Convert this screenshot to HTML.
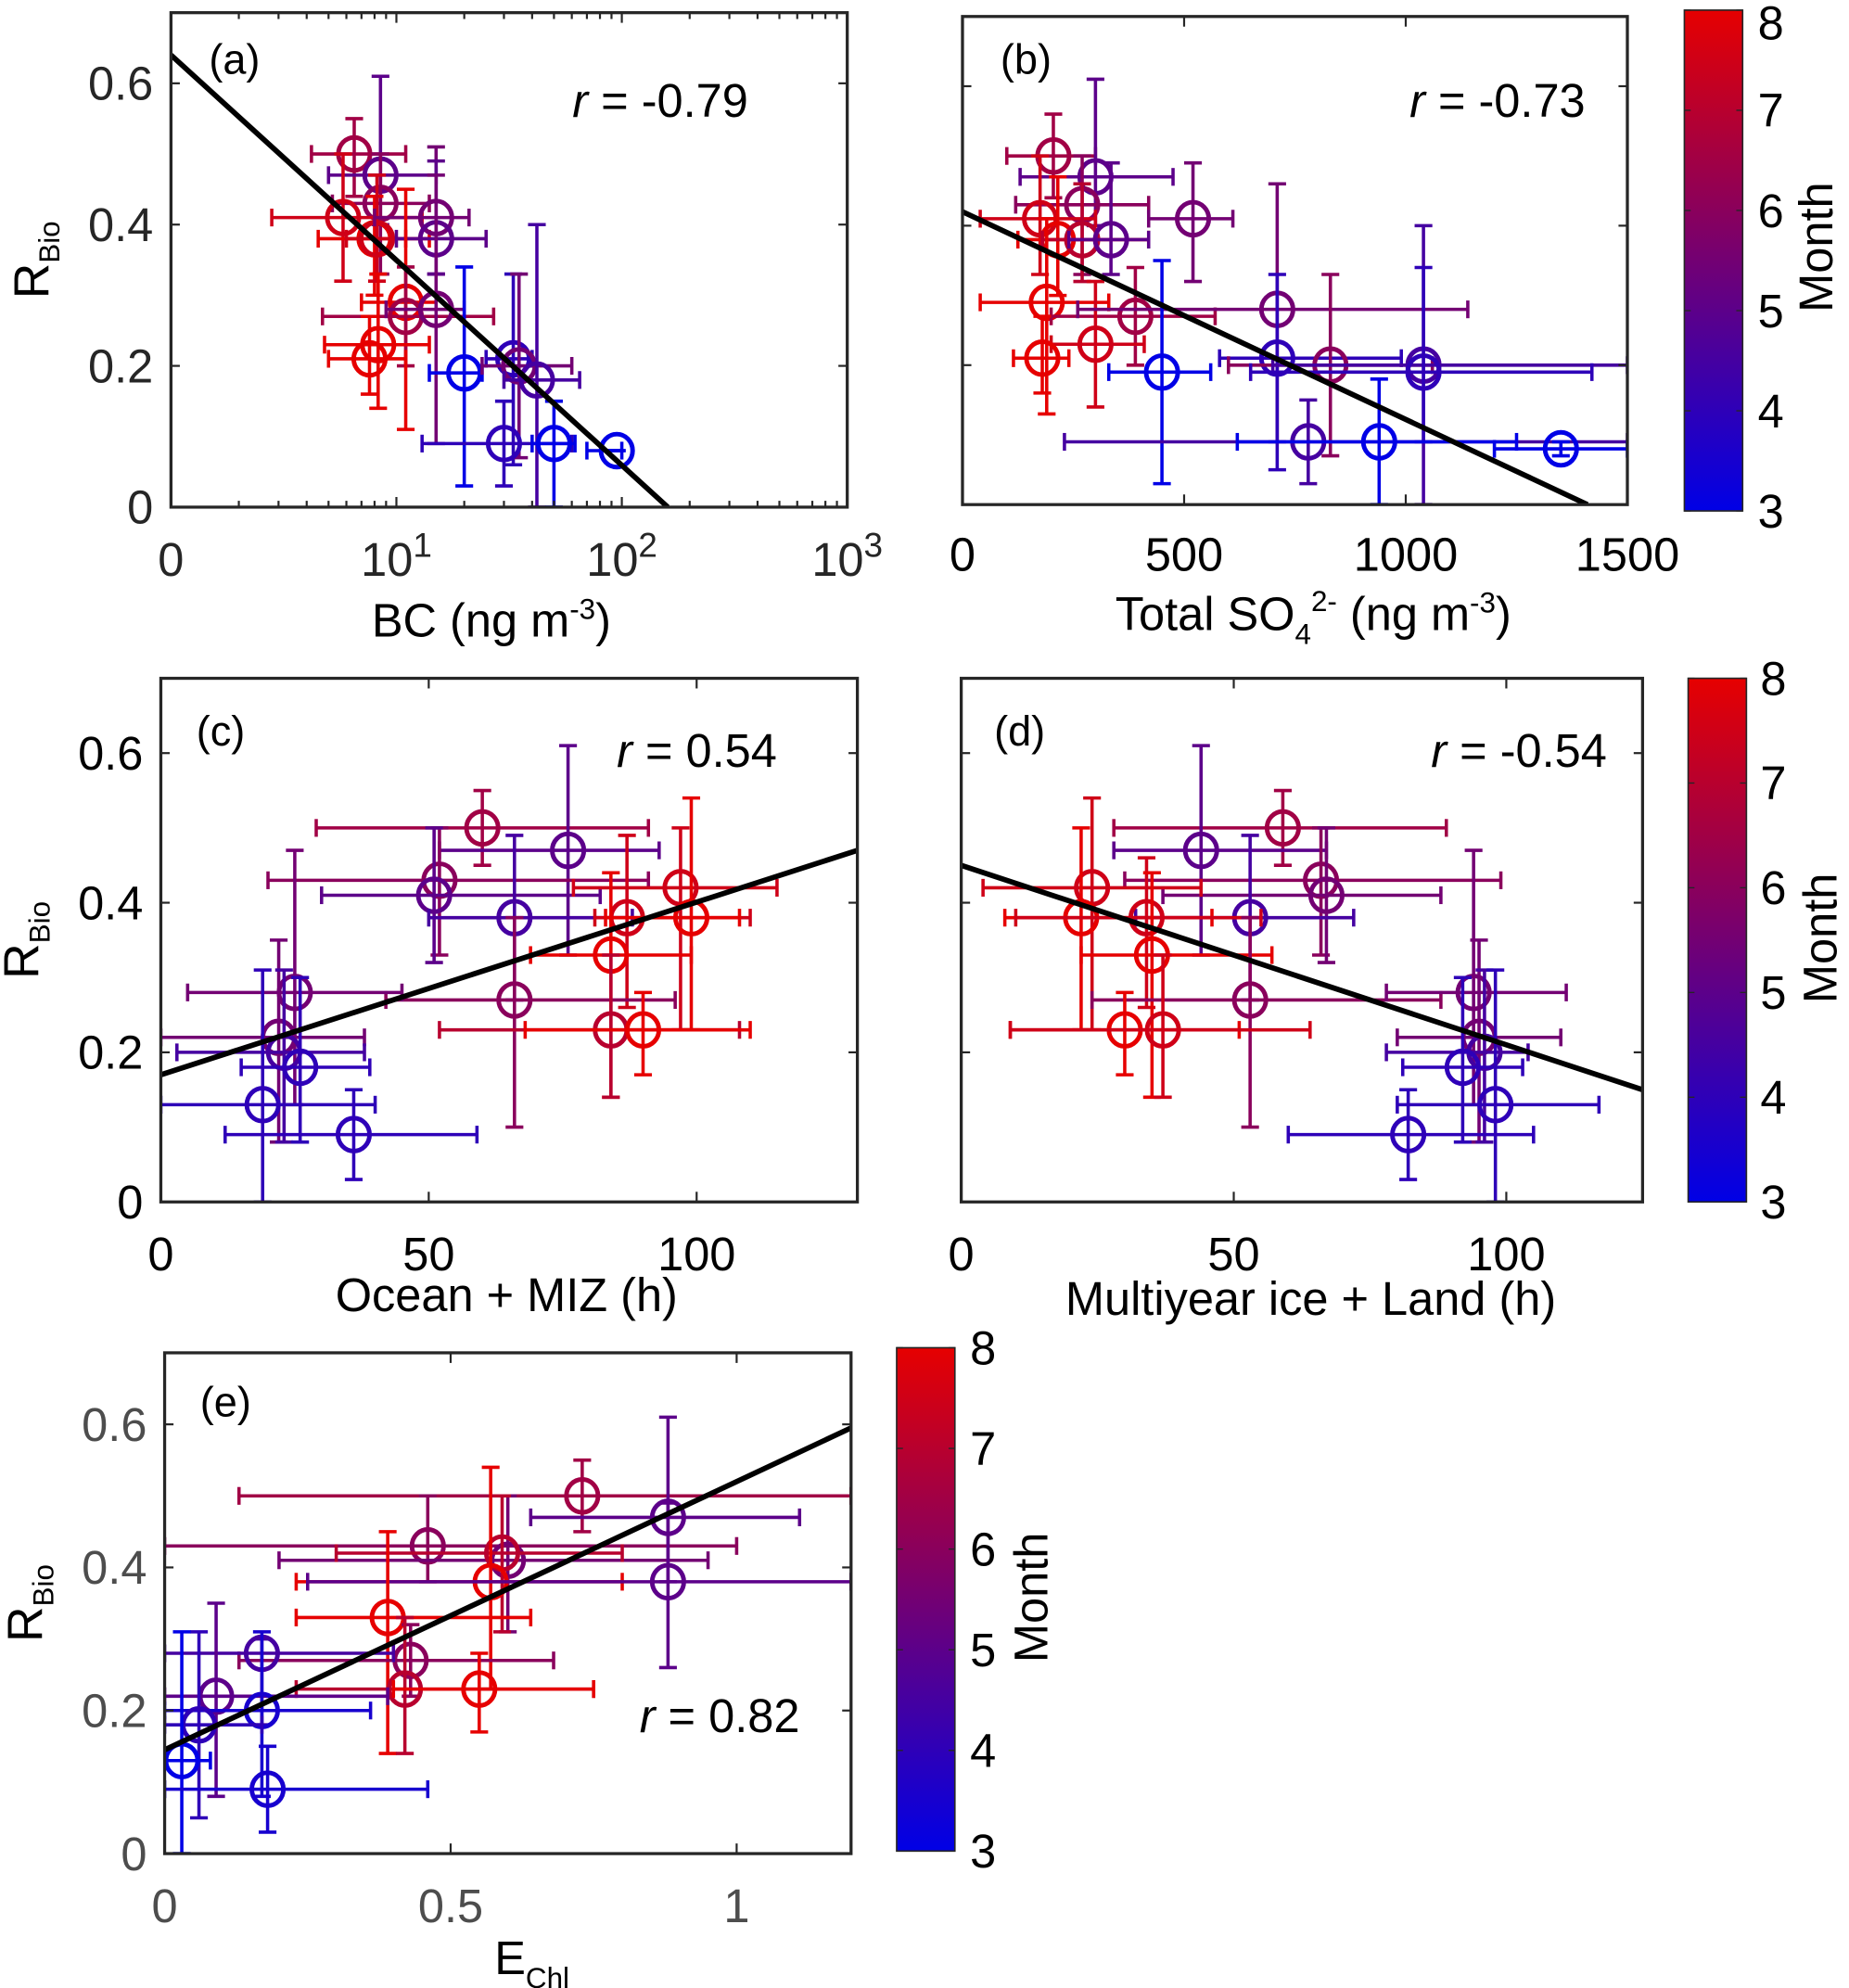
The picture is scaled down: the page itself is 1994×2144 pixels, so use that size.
<!DOCTYPE html>
<html><head><meta charset="utf-8"><style>
html,body{margin:0;padding:0;background:#fff}
svg{display:block}
text{font-family:"Liberation Sans",Arial,sans-serif}
</style></head><body>
<svg id="fig" xmlns="http://www.w3.org/2000/svg" width="1994" height="2144" viewBox="0 0 1460 1568" preserveAspectRatio="none">
<defs>
<linearGradient id="cb" x1="0" y1="1" x2="0" y2="0">
<stop offset="0" stop-color="rgb(0,0,230)"/><stop offset="0.5" stop-color="rgb(115,0,115)"/><stop offset="1" stop-color="rgb(230,0,0)"/>
</linearGradient>
</defs>
</svg>
<script>
// ---- panel (a): BC
const aX=[6.5,8.5,8.5,5.8,8.0,8.2,15,15,11,11,15,8.3,7.6,20,33,35,42,30,50,95];
const aY=[0.50,0.47,0.43,0.41,0.38,0.38,0.41,0.38,0.29,0.27,0.28,0.23,0.21,0.19,0.21,0.20,0.18,0.09,0.09,0.08];
const aM=[6.5,5,6,7.5,8,7.5,5.5,5,8,6.5,5.5,8,8,3,4,5.5,4.5,4,3,3];
const aXlo=[4.2,5,5.2,2.8,4.5,6,8,10,7,4.7,9,4.8,5,14,25,24,30,13,40,70];
const aXhi=[11,15,14,13,14,11,21,25,15,27,20,14,11,24,40,60,65,60,62,100];
const aYlo=[0.44,0.40,0.33,0.32,0.30,0.32,0.33,0.33,0.11,0.20,0.09,0.14,0.16,0.03,0.06,0.07,0,0.03,0,0.08];
const aYhi=[0.55,0.61,0.50,0.50,0.44,0.47,0.51,0.49,0.45,0.34,0.47,0.33,0.27,0.34,0.33,0.33,0.40,0.15,0.15,0.08];
// ---- panel (b): SO4
const bX=[205,300,270,175,215,270,335,520,190,390,300,180,710,450,710,830,1040,1040,780,940,1350];
const bY=[0.50,0.47,0.43,0.41,0.38,0.38,0.38,0.41,0.29,0.27,0.23,0.21,0.28,0.19,0.21,0.20,0.20,0.19,0.09,0.09,0.08];
const bM=[6.5,5,6,7.5,8,7,5,5.5,8,6.5,7.5,8,5.5,3,4,6,4.5,4,4.5,3,3];
const bXlo=[100,130,120,40,125,180,240,420,40,200,200,115,260,330,580,600,700,650,230,620,1200];
const bXhi=[300,475,420,300,420,300,420,610,330,570,410,240,1140,560,990,1060,1500,1420,1500,1250,1500];
const bYlo=[0.44,0.40,0.33,0.33,0.30,0.32,0.33,0.32,0.13,0.20,0.14,0.16,0.09,0.03,0.05,0.07,0,0.09,0.03,0,0.07];
const bYhi=[0.56,0.61,0.50,0.50,0.47,0.46,0.49,0.49,0.41,0.34,0.32,0.27,0.46,0.35,0.33,0.33,0.40,0.34,0.15,0.18,0.09];
// ---- panel (c): Ocean + MIZ
const cX=[60,76,52,51,66,97,87,99,84,66,84,90,25,22,23,26,19,36];
const cY=[0.50,0.47,0.43,0.41,0.38,0.42,0.38,0.38,0.33,0.27,0.23,0.23,0.28,0.22,0.20,0.18,0.13,0.09];
const cM=[6.5,5,6,5,4.5,7.5,7.5,8,8,6,7,8,5.5,5.5,4.5,4,4,4];
const cXlo=[29,52,20,30,50,77,81,83,69,42,52,68,5,0,3,15,0,12];
const cXhi=[91,93,91,82,88,115,110,108,99,96,108,110,45,38,38,39,40,59];
const cYlo=[0.45,0.33,0.33,0.32,0.27,0.23,0.26,0.23,0.14,0.10,0.14,0.17,0.13,0.08,0.08,0.08,0,0.03];
const cYhi=[0.55,0.61,0.50,0.50,0.49,0.50,0.49,0.54,0.44,0.38,0.33,0.28,0.47,0.35,0.31,0.30,0.31,0.15];
// ---- panel (d): Multiyear ice + Land
const dX=[59,44,66,67,53,24,22,34,35,53,30,37,94,95,96,92,98,82];
const dY=[0.50,0.47,0.43,0.41,0.38,0.42,0.38,0.38,0.33,0.27,0.23,0.23,0.28,0.22,0.20,0.18,0.13,0.09];
const dM=[6.5,5,6,5.5,4.5,7.5,8,7.5,8,6,8,7.5,5.5,5.5,4.5,4,4,4];
const dXlo=[28,28,30,37,32,4,8,10,22,24,9,9,78,80,78,81,80,60];
const dXhi=[89,67,99,88,72,44,46,55,57,88,51,64,111,110,104,103,117,105];
const dYlo=[0.45,0.33,0.33,0.32,0.27,0.23,0.23,0.26,0.14,0.10,0.17,0.14,0.13,0.08,0.08,0.08,0,0.03];
const dYhi=[0.55,0.61,0.50,0.50,0.49,0.54,0.50,0.46,0.44,0.38,0.28,0.33,0.47,0.35,0.31,0.30,0.31,0.15];
// ---- panel (e): E_Chl
const eX=[0.73,0.88,0.46,0.60,0.59,0.57,0.88,0.39,0.43,0.42,0.55,0.17,0.09,0.17,0.06,0.03,0.18];
const eY=[0.50,0.47,0.43,0.41,0.42,0.38,0.38,0.33,0.27,0.23,0.23,0.28,0.22,0.20,0.18,0.13,0.09];
const eM=[6.5,5,6,5.5,7,8,5,8,6,7,8,4.5,5,3.5,4,3,3.5];
const eXlo=[0.13,0.64,0,0.2,0.3,0.23,0.25,0.23,0.13,0.23,0.4,0,0,0,0,0,0];
const eXhi=[1.2,1.11,1.0,0.95,0.8,0.8,1.2,0.64,0.68,0.75,0.75,0.4,0.39,0.36,0.17,0.08,0.46];
const eYlo=[0.45,0.38,0.38,0.31,0.31,0.23,0.26,0.14,0.22,0.14,0.17,0.18,0.08,0.08,0.05,0,0.03];
const eYhi=[0.55,0.61,0.50,0.50,0.50,0.54,0.49,0.45,0.32,0.33,0.28,0.30,0.35,0.31,0.31,0.31,0.15];
// ---- fit lines [x0,y0,x1,y1]
const aFit=[1,0.64,160,0];
const bFit=[0,0.42,1410,0];
const cFit=[0,0.17,130,0.47];
const dFit=[0,0.45,125,0.15];
const eFit=[0,0.145,1.2,0.595];
const rTicks=[0,0.2,0.4,0.6];
const monthTicks=[3,4,5,6,7,8];

const NS='http://www.w3.org/2000/svg';
const svg=document.getElementById('fig');
const FS=37;
function mk(tag,parent,attrs){const e=document.createElementNS(NS,tag);for(const k in attrs)e.setAttribute(k,attrs[k]);parent.appendChild(e);return e;}
function col(m){const t=Math.max(0,Math.min(1,(m-3)/5));return 'rgb('+Math.round(230*t)+',0,'+Math.round(230*(1-t))+')';}

function panel(o){
  const g=mk('g',svg,{});
  
  
  const L=o.box[0],T=o.box[1],R=o.box[2],B=o.box[3];
  const sx=o.log? (v=>L+(Math.log10(v)-0)/3*(R-L)) : (v=>L+(v-o.xmin)/(o.xmax-o.xmin)*(R-L));
  const sy=v=>B-(v/0.7)*(B-T);
  const clip='clip'+o.id;
  const cp=mk('clipPath',svg,{id:clip});mk('rect',cp,{x:L,y:T,width:R-L,height:B-T});
  mk('rect',g,{x:L,y:T,width:R-L,height:B-T,fill:'#fff'});
  const marks=mk('g',g,{'clip-path':'url(#'+clip+')'});
  
  
  for(let i=0;i<o.x.length;i++){
    const c=col(o.m[i]);const px=sx(o.x[i]),py=sy(o.y[i]);
    const x1=sx(Math.max(o.log?1:o.xmin,o.xlo[i])),x2=sx(o.xhi[i]),y1=sy(o.ylo[i]),y2=sy(o.yhi[i]);
    const pt=mk('g',marks,{stroke:c,fill:'none'});
    
    
    const w=2.6;
    mk('line',pt,{x1:x1,y1:py,x2:x2,y2:py,'stroke-width':w});
    mk('line',pt,{x1:x1,y1:py-7,x2:x1,y2:py+7,'stroke-width':w});
    mk('line',pt,{x1:x2,y1:py-7,x2:x2,y2:py+7,'stroke-width':w});
    mk('line',pt,{x1:px,y1:y1,x2:px,y2:y2,'stroke-width':w});
    mk('line',pt,{x1:px-7,y1:y1,x2:px+7,y2:y1,'stroke-width':w});
    mk('line',pt,{x1:px-7,y1:y2,x2:px+7,y2:y2,'stroke-width':w});
    mk('ellipse',pt,{cx:px,cy:py,rx:12.5,ry:13,'stroke-width':3.6});
  }
  const f=o.fit;
  const fl=mk('line',marks,{x1:sx(f[0]),y1:sy(f[1]),x2:sx(f[2]),y2:sy(f[3]),stroke:'#000','stroke-width':4.2});
  
  
  const tk=mk('g',g,{stroke:'#262626','stroke-width':1.6});
  rTicks.forEach(v=>{const y=sy(v);mk('line',tk,{x1:L,y1:y,x2:L+7,y2:y});mk('line',tk,{x1:R,y1:y,x2:R-7,y2:y});
    if(o.yl){const t=mk('text',g,{x:L-14,y:y+13,'text-anchor':'end','font-size':FS,fill:o.tc});t.textContent=String(v);}});
  o.xt.forEach((v,i)=>{const x=sx(v);mk('line',tk,{x1:x,y1:B,x2:x,y2:B-8});mk('line',tk,{x1:x,y1:T,x2:x,y2:T+8});
    const t=mk('text',g,{x:x,y:B+o.xty,'text-anchor':'middle','font-size':FS,fill:o.tc});
    
    if(o.log&&i>0){t.innerHTML='10<tspan dy="-15" font-size="27">'+i+'</tspan>';}else t.textContent=o.xtl?o.xtl[i]:String(v);});
  if(o.log){for(let d=0;d<3;d++)for(let k=2;k<=9;k++){const x=sx(k*Math.pow(10,d));mk('line',tk,{x1:x,y1:B,x2:x,y2:B-5});mk('line',tk,{x1:x,y1:T,x2:x,y2:T+5});}}
  mk('rect',g,{x:L,y:T,width:R-L,height:B-T,fill:'none',stroke:'#262626','stroke-width':2.4});
  const pl=mk('text',g,{x:L+o.lab[0],y:T+o.lab[1],'font-size':33,fill:'#000'});pl.textContent='('+o.id+')';
  
  const rt=mk('text',g,{x:o.rpos[0],y:o.rpos[1],'font-size':FS,fill:'#000'});
  rt.innerHTML='<tspan font-style="italic">r</tspan>  = '+o.r;
  
  if(o.yl){const yl=mk('text',g,{x:0,y:0,'font-size':39,fill:'#000','text-anchor':'middle',transform:'translate('+(L-97)+','+((T+B)/2)+') rotate(-90)'});
    yl.innerHTML='R<tspan dy="9" font-size="23">Bio</tspan>';}
  const xl=mk('text',g,{x:o.xlab[0],y:o.xlab[1],'font-size':FS,fill:'#000','text-anchor':'middle'});
  xl.innerHTML=o.xlabel;
}
function colorbar(x,y0,y1,lx,mx,my,id){
  const g=mk('g',svg,{});
  
  
  mk('rect',g,{x:x,y:y0,width:46,height:y1-y0,fill:'url(#cb)',stroke:'#262626','stroke-width':1.2});
  monthTicks.forEach(m=>{const y=y1-(m-3)/5*(y1-y0);
    mk('line',g,{x1:x,y1:y,x2:x+5,y2:y,stroke:'#262626','stroke-width':1});mk('line',g,{x1:x+46,y1:y,x2:x+41,y2:y,stroke:'#262626','stroke-width':1});
    const t=mk('text',g,{x:lx,y:Math.max(y+13,31),'font-size':FS,fill:'#000'});t.textContent=m;});
  const t=mk('text',g,{x:0,y:0,'font-size':FS,fill:'#000','text-anchor':'middle',transform:'translate('+mx+','+my+') rotate(-90)'});
  t.textContent='Month';
}
panel({id:'a',box:[135,10,669,400],log:true,x:aX,y:aY,m:aM,xlo:aXlo,xhi:aXhi,ylo:aYlo,yhi:aYhi,fit:aFit,
  xt:[1,10,100,1000],xtl:['0'],xty:54,yl:true,tc:'#262626',lab:[30,48],rpos:[452,92],r:'-0.79',
  xlab:[388,502],xlabel:'BC (ng m<tspan dy="-14" font-size="23">-3</tspan><tspan dy="14">)</tspan>'});
panel({id:'b',box:[760,13,1285,398],xmin:0,xmax:1500,x:bX,y:bY,m:bM,xlo:bXlo,xhi:bXhi,ylo:bYlo,yhi:bYhi,fit:bFit,
  xt:[0,500,1000,1500],xty:52,yl:false,tc:'#000',lab:[30,45],rpos:[1113,92],r:'-0.73',
  xlab:[1037,497],xlabel:'Total SO<tspan dy="11" font-size="23">4</tspan><tspan dy="-26" font-size="23">2-</tspan><tspan dy="15"> (ng m</tspan><tspan dy="-14" font-size="23">-3</tspan><tspan dy="14">)</tspan>'});
panel({id:'c',box:[127,535,677,948],xmin:0,xmax:130,x:cX,y:cY,m:cM,xlo:cXlo,xhi:cXhi,ylo:cYlo,yhi:cYhi,fit:cFit,
  xt:[0,50,100],xty:54,yl:true,tc:'#000',lab:[28,53],rpos:[487,605],r:'0.54',
  xlab:[400,1034],xlabel:'Ocean + MIZ (h)'});
panel({id:'d',box:[759,535,1297,948],xmin:0,xmax:125,x:dX,y:dY,m:dM,xlo:dXlo,xhi:dXhi,ylo:dYlo,yhi:dYhi,fit:dFit,
  xt:[0,50,100],xty:54,yl:false,tc:'#000',lab:[26,53],rpos:[1130,605],r:'-0.54',
  xlab:[1035,1037],xlabel:'Multiyear ice + Land (h)'});
panel({id:'e',box:[130,1067,672,1462],xmin:0,xmax:1.2,x:eX,y:eY,m:eM,xlo:eXlo,xhi:eXhi,ylo:eYlo,yhi:eYhi,fit:eFit,
  xt:[0,0.5,1],xty:54,yl:true,tc:'#4d4d4d',lab:[28,50],rpos:[505,1366],r:'0.82',
  xlab:[420,1557],xlabel:'E<tspan dy="11" font-size="23">Chl</tspan>'});
colorbar(1330,8,403,1388,1447,195,'1');
colorbar(1333,535,948,1390,1450,740,'2');
colorbar(708,1063,1460,766,827,1260,'3');
</script>
</body></html>
